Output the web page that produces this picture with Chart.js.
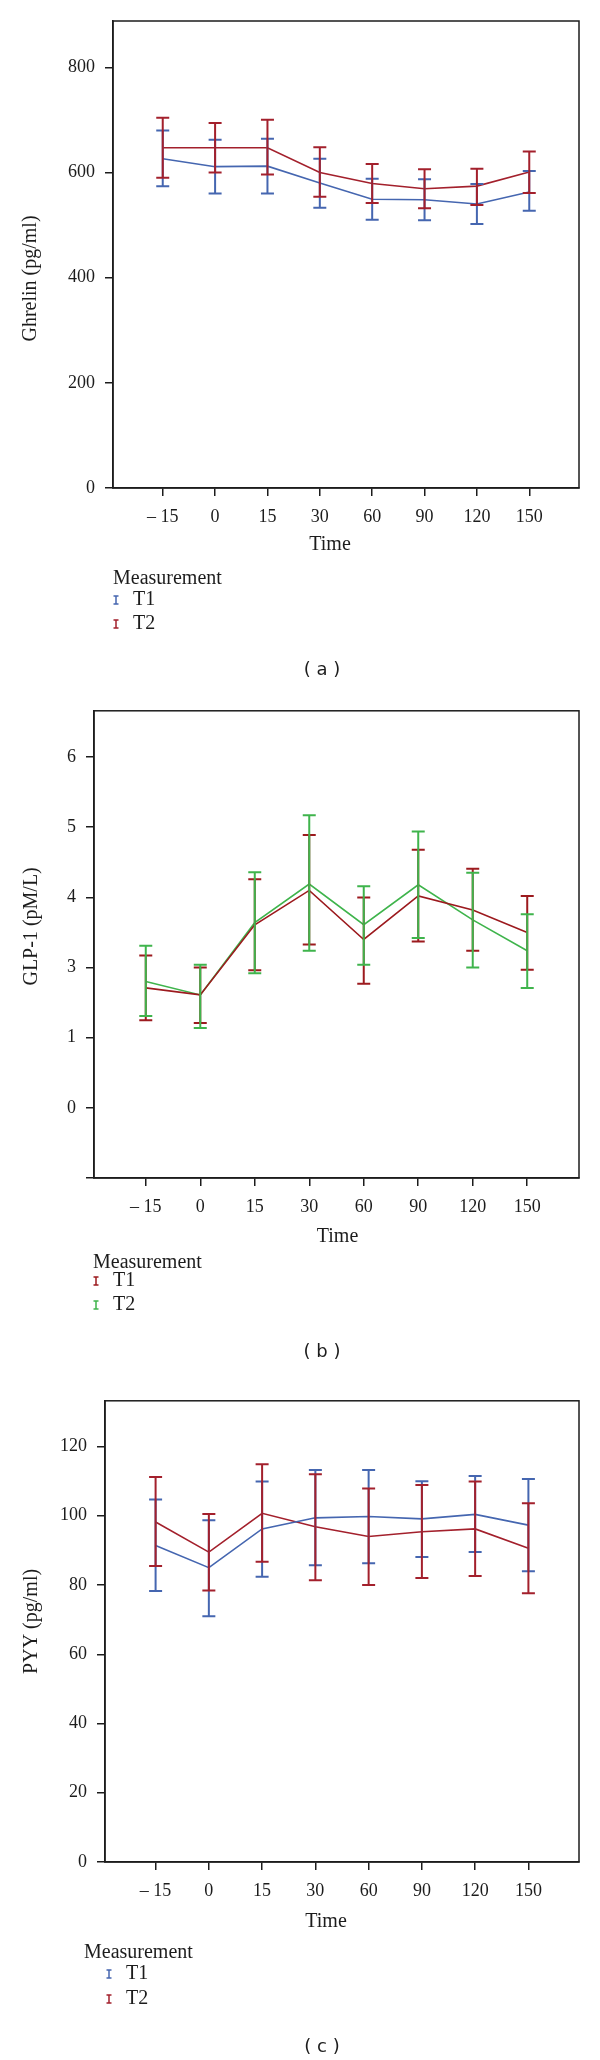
<!DOCTYPE html>
<html><head><meta charset="utf-8">
<script src="https://cdn.jsdelivr.net/npm/chart.js@4.4.1/dist/chart.umd.min.js"></script>
<style>
html,body{margin:0;padding:0;background:#fff;}
body{width:600px;height:2060px;position:relative;overflow:hidden;}
canvas{position:absolute;left:0;}
</style></head><body>
<canvas id="ca" width="600" height="690" style="top:0px"></canvas>
<canvas id="cb" width="600" height="690" style="top:690px"></canvas>
<canvas id="cc" width="600" height="680" style="top:1380px"></canvas>
<script>
// ---------- DATA ----------
const timeLabels = ['\u2013 15', '0', '15', '30', '60', '90', '120', '150'];
const seriesNames = ['T1', 'T2'];

// (a) Ghrelin (pg/ml)
const ghrelinT1      = [626, 611, 612, 580, 549, 548, 540, 563];
const ghrelinT1Upper = [680, 662, 664, 626, 588, 587, 578, 603];
const ghrelinT1Lower = [574, 560, 560, 533, 510, 509, 502, 527];
const ghrelinT2      = [647, 647, 647, 600, 579, 569, 574, 601];
const ghrelinT2Upper = [704, 694, 700, 648, 616, 606, 607, 640];
const ghrelinT2Lower = [590, 600, 596, 554, 542, 532, 538, 561];
const ghrelinTicks      = [0, 200, 400, 600, 800];
const ghrelinTickLabels = ['0', '200', '400', '600', '800'];

// (b) GLP-1 (pM/L)  (tick labels as printed in the original)
const glpT1      = [2.71, 2.61, 3.61, 4.10, 3.40, 4.02, 3.82, 3.50];
const glpT1Upper = [3.17, 3.00, 4.26, 4.89, 4.00, 4.68, 4.41, 4.02];
const glpT1Lower = [2.25, 2.21, 2.96, 3.33, 2.77, 3.37, 3.24, 2.97];
const glpT2      = [2.80, 2.61, 3.64, 4.19, 3.61, 4.18, 3.68, 3.24];
const glpT2Upper = [3.31, 3.04, 4.36, 5.17, 4.16, 4.94, 4.35, 3.76];
const glpT2Lower = [2.31, 2.14, 2.92, 3.24, 3.04, 3.42, 3.00, 2.71];
const glpTicks      = [0, 1, 2, 3, 4, 5, 6];
const glpTickLabels = ['', '0', '1', '3', '4', '5', '6'];

// (c) PYY (pg/ml)
const pyyT1      = [91.4, 85.0, 96.2, 99.4, 99.8, 99.1, 100.4, 97.3];
const pyyT1Upper = [104.7, 98.7, 109.9, 113.2, 113.2, 110.0, 111.5, 110.6];
const pyyT1Lower = [78.3, 71.0, 82.4, 85.7, 86.3, 88.1, 89.5, 84.0];
const pyyT2      = [98.2, 89.5, 100.7, 96.8, 94.0, 95.4, 96.2, 90.6];
const pyyT2Upper = [111.2, 100.5, 114.9, 112.0, 107.9, 108.9, 109.9, 103.6];
const pyyT2Lower = [85.5, 78.4, 86.7, 81.4, 80.0, 82.0, 82.6, 77.6];
const pyyTicks      = [0, 20, 40, 60, 80, 100, 120];
const pyyTickLabels = ['0', '20', '40', '60', '80', '100', '120'];

// ---------- STYLE ----------
const SERIF = "'Liberation Serif', 'Times New Roman', serif";
const SANS = "'DejaVu Sans', Verdana, sans-serif";
const INK = '#1c1c1c';
const BLUE = '#4566b0';
const RED = '#a3202c';
const DARKRED = '#9c1a1e';
const GREEN = '#3fb44c';

function drawIBar(ctx, x, yTop, yBot, half) {
  ctx.beginPath();
  ctx.moveTo(x, yTop); ctx.lineTo(x, yBot);
  ctx.moveTo(x - half, yTop); ctx.lineTo(x + half, yTop);
  ctx.moveTo(x - half, yBot); ctx.lineTo(x + half, yBot);
  ctx.stroke();
}

const decorPlugin = {
  id: 'decor',
  afterDatasetsDraw(chart, args, o) {
    const {ctx, chartArea: a} = chart;
    const xs = chart.scales.x, ys = chart.scales.y;
    chart.data.datasets.forEach(ds => {
      ctx.save();
      ctx.strokeStyle = ds.borderColor;
      ctx.lineWidth = 2;
      ds.upper.forEach((u, i) => {
        const px = xs.getPixelForValue(i);
        drawIBar(ctx, px, ys.getPixelForValue(u), ys.getPixelForValue(ds.lower[i]), 6.5);
      });
      ctx.restore();
    });
    // frame
    ctx.save();
    ctx.strokeStyle = INK; ctx.lineWidth = 1.5;
    ctx.strokeRect(a.left, a.top, a.right - a.left, a.bottom - a.top);
    ctx.restore();
  },
  afterDraw(chart, args, o) {
    const {ctx, chartArea: a} = chart;
    ctx.save();
    ctx.fillStyle = INK;
    ctx.textBaseline = 'middle';
    // axis titles
    ctx.font = '20px ' + SERIF;
    ctx.textAlign = 'center';
    ctx.fillText(o.xTitle, (a.left + a.right) / 2 + o.xTitleDx, a.bottom + o.xTitleDy);
    ctx.save();
    ctx.translate(o.yTitleX, (a.top + a.bottom) / 2 + o.yTitleDy);
    ctx.rotate(-Math.PI / 2);
    ctx.fillText(o.yTitle, 0, 0);
    ctx.restore();
    // legend
    ctx.textAlign = 'left';
    ctx.font = '20px ' + SERIF;
    ctx.fillText('Measurement', o.legX, o.legY);
    chart.data.datasets.forEach((ds, i) => {
      const y = o.legY + o.legGap * (i + 1) + (i === 0 ? 0 : o.legExtra);
      ctx.strokeStyle = ds.borderColor; ctx.lineWidth = 1.5;
      drawIBar(ctx, o.iconX, y - 4, y + 4, 2.5);
      ctx.fillStyle = INK;
      ctx.fillText(ds.label, o.textX, y);
    });
    // caption
    ctx.font = '18px ' + SANS;
    ctx.textAlign = 'center';
    ctx.fillText(o.caption, o.capX, o.capY);
    ctx.restore();
  }
};

function makeChart(id, p) {
  const H = p.canvasH;
  const toPts = arr => arr.map((v, i) => ({x: i, y: v}));
  new Chart(document.getElementById(id), {
    type: 'line',
    data: {
      datasets: p.series.map(s => ({
        label: s.label, data: toPts(s.mean), upper: s.upper, lower: s.lower,
        borderColor: s.color, backgroundColor: s.color,
        borderWidth: 1.6, pointRadius: 0, tension: 0, fill: false
      }))
    },
    options: {
      responsive: false, animation: false, devicePixelRatio: 1,
      layout: {autoPadding: false, padding: {left: 0, top: p.top, right: 600 - p.right, bottom: H - p.bottom - 70}},
      plugins: {
        legend: {display: false}, tooltip: {enabled: false},
        decor: p.decor
      },
      scales: {
        x: {
          type: 'linear', min: -0.95, max: 7.95,
          afterBuildTicks: s => { s.ticks = timeLabels.map((_, i) => ({value: i})); },
          afterFit: s => { s.height = 70; },
          ticks: {callback: v => timeLabels[v], color: INK, font: {family: SERIF, size: 18}, padding: 10, maxRotation: 0, autoSkip: false},
          grid: {display: true, drawOnChartArea: false, drawTicks: true, tickLength: 8, color: INK, lineWidth: 1.5},
          border: {display: true, color: INK, width: 1.5},
          title: {display: false, text: 'Time'}
        },
        y: {
          type: 'linear', min: p.yMin, max: p.yMax,
          afterBuildTicks: s => { s.ticks = p.yTicks.map(v => ({value: v})); },
          afterFit: s => { s.width = p.left; },
          ticks: {callback: v => p.yTickLabels[p.yTicks.indexOf(v)], color: INK, font: {family: SERIF, size: 18}, padding: 10, autoSkip: false},
          grid: {display: true, drawOnChartArea: false, drawTicks: true, tickLength: 8, color: INK, lineWidth: 1.5},
          border: {display: true, color: INK, width: 1.5},
          title: {display: false, text: p.decor.yTitle}
        }
      }
    },
    plugins: [decorPlugin]
  });
}

makeChart('ca', {
  canvasH: 690, left: 113, top: 21, right: 579, bottom: 488,
  yMin: 0, yMax: 888, yTicks: ghrelinTicks, yTickLabels: ghrelinTickLabels,
  series: [
    {label: seriesNames[0], mean: ghrelinT1, upper: ghrelinT1Upper, lower: ghrelinT1Lower, color: BLUE},
    {label: seriesNames[1], mean: ghrelinT2, upper: ghrelinT2Upper, lower: ghrelinT2Lower, color: RED}
  ],
  decor: {xTitle: 'Time', xTitleDx: -16, xTitleDy: 57, yTitle: 'Ghrelin (pg/ml)', yTitleX: 31, yTitleDy: 24,
          legX: 113, legY: 579, legGap: 21, legExtra: 3, iconX: 116, textX: 133, caption: '( a )', capX: 322, capY: 670}
});

makeChart('cb', {
  canvasH: 690, left: 94, top: 17, right: 579, bottom: 488,
  yMin: 0, yMax: 6.66, yTicks: glpTicks, yTickLabels: glpTickLabels,
  series: [
    {label: seriesNames[0], mean: glpT1, upper: glpT1Upper, lower: glpT1Lower, color: DARKRED},
    {label: seriesNames[1], mean: glpT2, upper: glpT2Upper, lower: glpT2Lower, color: GREEN}
  ],
  decor: {xTitle: 'Time', xTitleDx: 1, xTitleDy: 59, yTitle: 'GLP-1 (pM/L)', yTitleX: 32, yTitleDy: -18,
          legX: 93, legY: 573, legGap: 18, legExtra: 6, iconX: 96, textX: 113, caption: '( b )', capX: 322, capY: 662}
});

makeChart('cc', {
  canvasH: 680, left: 105, top: 8, right: 579, bottom: 482,
  yMin: 0, yMax: 133.2, yTicks: pyyTicks, yTickLabels: pyyTickLabels,
  series: [
    {label: seriesNames[0], mean: pyyT1, upper: pyyT1Upper, lower: pyyT1Lower, color: BLUE},
    {label: seriesNames[1], mean: pyyT2, upper: pyyT2Upper, lower: pyyT2Lower, color: RED}
  ],
  decor: {xTitle: 'Time', xTitleDx: -16, xTitleDy: 60, yTitle: 'PYY (pg/ml)', yTitleX: 32, yTitleDy: -10,
          legX: 84, legY: 573, legGap: 21, legExtra: 4, iconX: 109, textX: 126, caption: '( c )', capX: 322, capY: 667}
});
</script>
</body></html>
